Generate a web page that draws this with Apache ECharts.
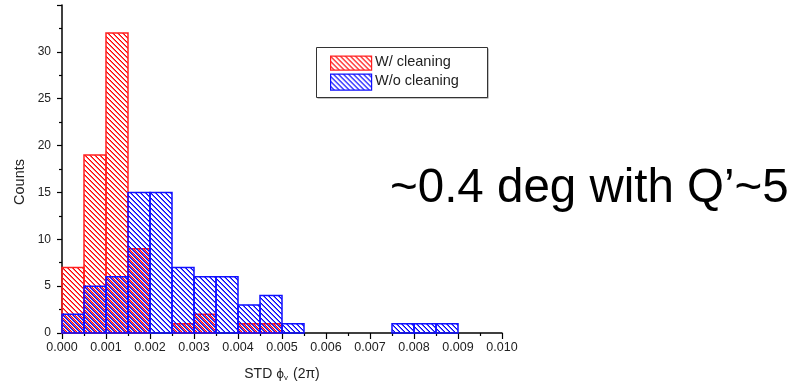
<!DOCTYPE html>
<html>
<head>
<meta charset="utf-8">
<script src="https://cdn.jsdelivr.net/npm/echarts@6/dist/echarts.min.js"></script>
<style>
html,body{margin:0;padding:0;background:#fff;}
#chart{width:792px;height:385px;}
</style>
</head>
<body>
<div id="chart"></div>
<script>
// ---- data ----
const binStarts = [0.0000, 0.0005, 0.0010, 0.0015, 0.0020, 0.0025, 0.0030, 0.0035, 0.0040,
                   0.0045, 0.0050, 0.0055, 0.0060, 0.0065, 0.0070, 0.0075, 0.0080, 0.0085];
const binWidth = 0.0005;
const withCleaning    = [7, 19, 32, 9, 0, 1, 2, 0, 1, 1, 0, 0, 0, 0, 0, 0, 0, 0];
const withoutCleaning = [2, 5, 6, 15, 15, 7, 6, 6, 3, 4, 1, 0, 0, 0, 0, 1, 1, 1];
const seriesNames = ['W/ cleaning', 'W/o cleaning'];
const xTicks = [0.000, 0.001, 0.002, 0.003, 0.004, 0.005, 0.006, 0.007, 0.008, 0.009, 0.010];
const yTicks = [0, 5, 10, 15, 20, 25, 30];
const annotation = '~0.4 deg with Q\u2019~5';

// ---- hatch patterns ----
function hatch(color, offset) {
  const p = 5;
  const c = document.createElement('canvas');
  c.width = p; c.height = p;
  const ctx = c.getContext('2d');
  ctx.fillStyle = color;
  for (let y = 0; y < p; y++) {
    for (let x = 0; x < p; x++) {
      const d = ((y - x - offset) % p + p) % p;
      if (d === 0) { ctx.globalAlpha = 1; ctx.fillRect(x, y, 1, 1); }
      else if (d === 1) { ctx.globalAlpha = 0.6; ctx.fillRect(x, y, 1, 1); }
    }
  }
  return c;
}
const redPat = hatch('#ff0000', 0);
const bluePat = hatch('#0000ff', 2);

function toData(vals) {
  return binStarts.map((s, i) => [s, s + binWidth, vals[i]]);
}

function makeRender(pattern, stroke) {
  return function (params, api) {
    const v = api.value(2);
    if (!v) return null;
    const p0 = api.coord([api.value(0), 0]);
    const p1 = api.coord([api.value(1), v]);
    return {
      type: 'rect',
      shape: { x: p0[0], y: p1[1], width: p1[0] - p0[0], height: p0[1] - p1[1] },
      style: { fill: { image: pattern, repeat: 'repeat' }, stroke: stroke, lineWidth: 1.5 }
    };
  };
}

const chart = echarts.init(document.getElementById('chart'), null, { renderer: 'canvas' });

const lx = 316, ly = 47;
chart.setOption({
  animation: false,
  backgroundColor: '#fff',
  grid: { left: 62, right: 290, top: 5, bottom: 52 },
  xAxis: {
    type: 'value', min: 0, max: 0.010, interval: 0.001,
    axisLine: { lineStyle: { color: '#000', width: 1.5 } },
    axisTick: { show: true, inside: false, length: 6, lineStyle: { color: '#000', width: 1.2 } },
    minorTick: { show: true, splitNumber: 2, length: 3, lineStyle: { color: '#000', width: 1.2 } },
    splitLine: { show: false },
    axisLabel: { color: '#222', fontSize: 12.5, fontFamily: 'Liberation Sans, Arial', margin: 8,
      formatter: v => (xTicks.some(t => Math.abs(t - v) < 1e-9) ? v.toFixed(3) : '') }
  },
  yAxis: {
    type: 'value', min: 0, max: 35, interval: 5,
    axisLine: { show: true, lineStyle: { color: '#000', width: 1.5 } },
    axisTick: { show: true, inside: false, length: 5, lineStyle: { color: '#000', width: 1.2 } },
    minorTick: { show: true, splitNumber: 2, length: 3, lineStyle: { color: '#000', width: 1.2 } },
    splitLine: { show: false },
    axisLabel: { color: '#222', fontSize: 12, fontFamily: 'Liberation Sans, Arial', margin: 11,
      formatter: v => (yTicks.indexOf(v) >= 0 ? String(v) : '') , showMaxLabel: false }
  },
  series: [
    { type: 'custom', name: seriesNames[0], renderItem: makeRender(redPat, '#ff2020'),
      encode: { x: [0, 1], y: 2 }, data: toData(withCleaning), z: 2 },
    { type: 'custom', name: seriesNames[1], renderItem: makeRender(bluePat, '#1010ff'),
      encode: { x: [0, 1], y: 2 }, data: toData(withoutCleaning), z: 3 }
  ],
  graphic: [
    // legend box
    { type: 'rect', left: lx + 1.5, top: ly + 1.5, shape: { width: 171, height: 50 },
      style: { fill: '#888' }, z: 10 },
    { type: 'rect', left: lx, top: ly, shape: { width: 171, height: 50 },
      style: { fill: '#fff', stroke: '#333', lineWidth: 1 }, z: 11 },
    { type: 'rect', left: lx + 14, top: ly + 8.5, shape: { width: 41, height: 14 },
      style: { fill: { image: redPat, repeat: 'repeat' }, stroke: '#ff2020', lineWidth: 1.2 }, z: 12 },
    { type: 'rect', left: lx + 14, top: ly + 26.5, shape: { width: 41, height: 16 },
      style: { fill: { image: bluePat, repeat: 'repeat' }, stroke: '#1010ff', lineWidth: 1.2 }, z: 12 },
    { type: 'text', left: lx + 59, top: ly + 7, z: 12,
      style: { text: seriesNames[0], fill: '#222', font: '14.5px "Liberation Sans", Arial' } },
    { type: 'text', left: lx + 59, top: ly + 26, z: 12,
      style: { text: seriesNames[1], fill: '#222', font: '14.5px "Liberation Sans", Arial' } },
    // axis titles
    { type: 'text', x: 20, y: 182, rotation: Math.PI / 2, z: 12,
      style: { text: 'Counts', fill: '#222', font: '14.5px "Liberation Sans", Arial', align: 'center', verticalAlign: 'middle' } },
    { type: 'text', x: 282, y: 374, z: 12,
      style: { text: '{a|STD }{phi|\u03d5}{sub|v}{a| (2\u03c0)}', align: 'center', verticalAlign: 'middle',
        rich: {
          a: { fill: '#222', font: '14px "Liberation Sans", Arial' },
          phi: { fill: '#222', font: '12px "DejaVu Sans"', padding: [2, 0, 0, 0] },
          sub: { fill: '#222', font: '8px "Liberation Sans", Arial', padding: [8, 1, 0, 0] }
        } } },
    // annotation
    { type: 'text', x: 390, y: 189, z: 12,
      style: { text: annotation, fill: '#000', font: '47.5px "Liberation Sans", Arial', align: 'left', verticalAlign: 'middle' } }
  ]
});
</script>
</body>
</html>
